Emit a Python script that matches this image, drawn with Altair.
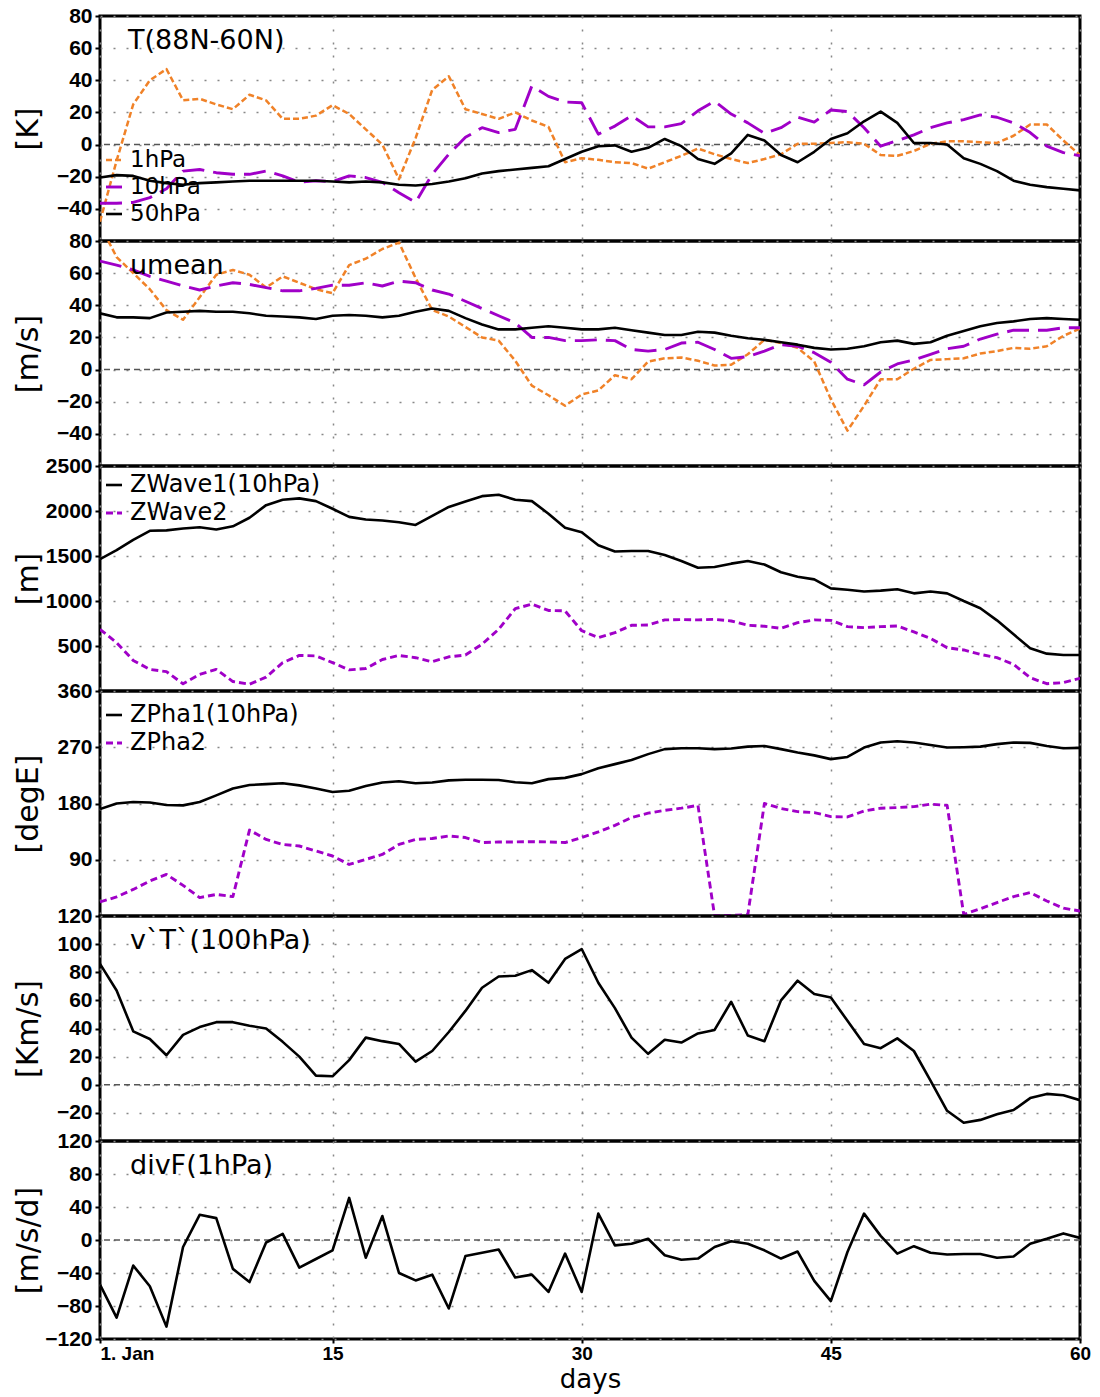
import altair as alt
import pandas as pd

DAYS = list(range(1, 61))

# Polar-cap temperature anomaly (88N-60N) [K]
t_1hpa = [-48, -10, 25, 40, 47, 27.5, 28.5, 25, 22, 31, 27.5, 16, 16, 18, 24.5, 19, 9.5, 0, -21.5, 4,
          34, 42.5, 22, 19, 16, 20, 15, 11, -11, -8.5, -9.5, -11, -11.5, -15, -11, -7, -2.5, -6, -9, -11.5,
          -9, -6, 0.5, 0.5, 1, 1.5, 0.5, -6.5, -7, -4, 0.5, 2, 2, 1.5, 1, 5.5, 12.5, 12.5, 2.5, -6.5]
t_10hpa = [-36.5, -36.5, -36, -33, -27.5, -16.5, -15.5, -17.5, -18.5, -18.5, -16.5, -19.5, -23.5, -22.5, -23,
           -19.5, -20.5, -23.5, -30, -36, -18.5, -6, 4.5, 10.5, 7.5, 9.5, 36.5, 30, 26.5, 26, 6.5, 11.5, 18,
           11, 11, 13, 21, 27, 19, 13.5, 7, 10.5, 17, 14, 21.5, 20.5, 10.5, -1, 2.5, 6, 10.5, 13.5, 15.5,
           18.5, 17, 13.5, 7.5, -1, -5, -7]
t_50hpa = [-20.5, -19, -19.5, -22.5, -24, -25, -24, -23.5, -23, -22.5, -22.5, -22.5, -22.5, -22.5, -23,
           -23.5, -23, -23.5, -25, -25.5, -24.5, -23, -21, -18, -16.5, -15.5, -14.5, -13.5, -9, -4.5, -1,
           -0.5, -4.5, -2, 3.5, -1, -9, -12, -5.5, 6, 2.5, -6.5, -11, -4.5, 3.5, 7, 14.5, 20.5, 13.5, 1, 1,
           0, -8.5, -12, -16.5, -22.5, -25, -26.5, -27.5, -28.5]

# Zonal-mean zonal wind [m/s]
u_1hpa = [90, 70, 60, 50, 37, 31, 45, 59, 62, 59, 51, 58, 54, 50, 47.5, 65, 69, 75, 79, 57, 37, 33, 26.5,
          20, 18, 5.5, -10, -16, -22.5, -15.5, -13, -3.5, -6, 5, 7, 7.5, 5.5, 2.5, 3, 9.5, 18.5, 16.5, 13.5,
          5, -18.5, -38, -22.5, -6, -6, 0.5, 6, 6.5, 7, 10, 11.5, 13.5, 13, 14.5, 21, 25.5]
u_10hpa = [67.5, 65, 62, 58, 55, 52, 49.5, 52, 54, 53, 51, 49, 49, 50.5, 52.5, 52.5, 54, 52, 55, 54, 49.5,
           47, 42.5, 38, 33.5, 29, 20, 20, 18, 18, 18.5, 18, 12.5, 11.5, 12.5, 16.5, 17, 12.5, 7, 8, 11.5,
           15.5, 14.5, 10.5, 4.5, -6, -9.5, -1.5, 3.5, 6, 9.5, 13, 14.5, 19, 22, 24.5, 24.5, 24.5, 26, 26]
u_50hpa = [35, 32.5, 32.5, 32, 35.5, 36, 36.5, 36, 36, 35, 33.5, 33, 32.5, 31.5, 33.5, 34, 33.5, 32.5,
           33.5, 36, 38, 36.5, 32, 28, 25, 25, 26, 27, 26, 25, 25, 26, 24.5, 23, 21.5, 21.5, 23.5, 23, 21,
           19.5, 18.5, 17, 15.5, 13.5, 12.5, 13, 14.5, 17, 18, 16, 17, 21, 24, 27, 29, 30, 31.5, 32, 31.5, 31]

# Geopotential wave amplitudes at 10 hPa [m]
zwave1 = [1465, 1565, 1680, 1780, 1785, 1805, 1820, 1795, 1830, 1925, 2065, 2125, 2140, 2110, 2025, 1935,
          1905, 1895, 1875, 1845, 1945, 2045, 2105, 2165, 2180, 2125, 2110, 1970, 1815, 1765, 1620, 1550,
          1555, 1555, 1510, 1445, 1370, 1378, 1415, 1445, 1405, 1320, 1270, 1240, 1140, 1125, 1105, 1115,
          1130, 1085, 1105, 1085, 1000, 920, 785, 630, 475, 415, 400, 400]
zwave2 = [685, 537, 340, 240, 215, 80, 185, 240, 105, 75, 155, 315, 395, 390, 315, 235, 250, 350, 395, 370,
          325, 380, 400, 520, 685, 915, 965, 895, 890, 670, 593, 648, 730, 733, 790, 793, 790, 796, 778, 730,
          719, 696, 759, 790, 785, 715, 704, 715, 722, 656, 585, 481, 456, 407, 370, 296, 148, 81, 93, 141]

# Wave phases at 10 hPa [degE]
zpha1 = [171, 180, 182.5, 181.5, 177.5, 177, 182.5, 193, 204, 209.5, 211, 212.5, 209, 204, 198.5, 200.5,
         208, 213.5, 215.5, 212.5, 213.5, 217, 218, 218, 217.5, 214, 212.5, 219, 221, 227, 236.5, 243,
         249.5, 259, 267, 268.5, 268.5, 267, 268, 271, 272, 267, 261.5, 257, 251, 254.5, 269.5, 277.5,
         279.5, 277.5, 273.5, 269.5, 270, 271, 275, 277.5, 277, 272, 268.5, 269]
zpha2 = [22.5, 30.5, 42.5, 56, 66.5, 49, 29.5, 34.5, 31, 137.5, 122.5, 114.5, 112, 104, 96, 82.5, 90.5,
         98.5, 114.5, 122.5, 124, 128, 125.5, 117.5, 118.5, 118.5, 119, 118.5, 117.5, 125.5, 134.5, 145,
         157.5, 164.5, 169, 172.5, 177, 0.5, 1, 2, 180, 172, 167, 165.5, 159, 158.5, 168, 172.5, 173.5,
         175, 179, 177, 2.5, 11.5, 21.5, 31, 37.5, 24, 12.5, 8]

# Eddy heat flux at 100 hPa [K m/s]
vt_100 = [86, 67, 38, 32.5, 21, 35.5, 41, 44.5, 44.5, 42, 40, 30.5, 20, 6.5, 6, 17.5, 33.5, 31, 29, 16.5,
          24, 37.5, 52.5, 69, 77, 77.5, 81.5, 72.5, 89.5, 96.5, 72.5, 54.5, 33.5, 22, 32, 30, 36.5, 39, 59,
          35, 31, 60, 74, 64.5, 62, 45.5, 29, 26, 33, 24, 3, -18.5, -27, -25, -21, -18, -9.5, -6.5, -7.5, -11]

# EP-flux divergence at 1 hPa [m/s/d]
divf_1 = [-54, -94, -31, -56, -105, -8.5, 30.5, 26.5, -35, -51, -3, 7.5, -33.5, -23, -12.5, 51, -21.5, 29,
          -40, -49, -42, -83, -19.5, -15.5, -11.5, -45.5, -42, -63, -16.5, -63, 32, -6.5, -4.5, 1.5, -18.5,
          -24, -22.5, -8.5, -1.5, -4.5, -12.5, -22.5, -14, -49.5, -74, -14.5, 32, 5, -16.5, -7.5, -15.5,
          -17.5, -17, -17, -21.5, -20, -4.5, 1.5, 8, 2.5]

X_TICKS = [1, 15, 30, 45, 60]

ORANGE = "#f08228"
PURPLE = "#a000c8"
BLACK = "#000000"

WIDTH = 980
TEXT_FONT = "DejaVu Sans"
TICK_FONT = "Liberation Sans, Arial, sans-serif"


def x_encoding(bottom):
    if bottom:
        axis = alt.Axis(
            values=X_TICKS, grid=True, domain=False, ticks=True, labels=True,
            labelExpr="datum.value == 1 ? '1. Jan' : datum.label",
            labelAlign={"condition": {"test": "datum.value == 1", "value": "left"}, "value": "center"},
            labelFontSize=19, labelPadding=1, tickSize=4,
            title="days", titlePadding=3, titleFontSize=26,
        )
    else:
        axis = alt.Axis(values=X_TICKS, grid=True, domain=False, ticks=False, labels=False, title=None)
    return alt.X("day:Q", scale=alt.Scale(domain=[1, 60], nice=False, zero=False), axis=axis)


def y_encoding(domain, ticks, title, height):
    axis = alt.Axis(
        values=ticks, title=title, grid=True, domain=False, format="d",
        titleX=-72, titleY=height / 2, titleAngle=-90, titleAlign="center", titleBaseline="middle",
    )
    return alt.Y("value:Q", scale=alt.Scale(domain=domain, nice=False, zero=False), axis=axis)


def panel(series, domain, ticks, title, height, texts, samples, bottom=False):
    xe = x_encoding(bottom)
    ye = y_encoding(domain, ticks, title, height)
    layers = []
    if domain[0] < 0 < domain[1]:
        layers.append(
            alt.Chart(pd.DataFrame({"day": [1], "value": [0]}))
            .mark_rule(color="#555555", strokeDash=[6, 4], strokeWidth=1.5)
            .encode(y=ye)
        )
    for values, color, dash, width in series:
        df = pd.DataFrame({"day": DAYS, "value": values})
        mark_kw = dict(color=color, strokeWidth=width, clip=True, strokeJoin="round")
        if dash:
            mark_kw["strokeDash"] = dash
        layers.append(alt.Chart(df).mark_line(**mark_kw).encode(x=xe, y=ye))
    for label, px, py, size in texts:
        layers.append(
            alt.Chart(pd.DataFrame({"t": [label]}))
            .mark_text(align="left", baseline="middle", font=TEXT_FONT, fontSize=size, color="black")
            .encode(x=alt.value(px), y=alt.value(py), text="t:N")
        )
    for color, dash, width, py in samples:
        kw = dict(color=color, strokeWidth=width)
        if dash:
            kw["strokeDash"] = dash
        layers.append(
            alt.Chart(pd.DataFrame({"k": [0]}))
            .mark_rule(**kw)
            .encode(x=alt.value(6), x2=alt.value(22), y=alt.value(py))
        )
    return alt.layer(*layers).properties(width=WIDTH, height=height)


DASH_1 = [6, 3]
DASH_10 = [22, 9]
DASH_W2 = [7, 4]
W_BLACK = 2.6
W_ORANGE = 2.5
W_PURPLE = 2.9
HEAD = 27     # panel headings
LEG = 23      # stacked legend entries
PAIR = 24     # two-line panel labels

p1 = panel(
    [(t_1hpa, ORANGE, DASH_1, W_ORANGE), (t_10hpa, PURPLE, DASH_10, W_PURPLE), (t_50hpa, BLACK, None, W_BLACK)],
    [-60, 80], [80, 60, 40, 20, 0, -20, -40], "[K]", 225,
    [("T(88N-60N)", 28, 25, HEAD), ("1hPa", 30, 144, LEG), ("10hPa", 30, 171, LEG), ("50hPa", 30, 198, LEG)],
    [(ORANGE, DASH_1, W_ORANGE, 144), (PURPLE, DASH_10, W_PURPLE, 171), (BLACK, None, W_BLACK, 198)],
)
p2 = panel(
    [(u_1hpa, ORANGE, DASH_1, W_ORANGE), (u_10hpa, PURPLE, DASH_10, W_PURPLE), (u_50hpa, BLACK, None, W_BLACK)],
    [-60, 80], [80, 60, 40, 20, 0, -20, -40], "[m/s]", 225,
    [("umean", 30, 25, HEAD)], [],
)
p3 = panel(
    [(zwave1, BLACK, None, W_BLACK), (zwave2, PURPLE, DASH_W2, W_PURPLE)],
    [0, 2500], [2500, 2000, 1500, 1000, 500], "[m]", 225,
    [("ZWave1(10hPa)", 30, 19, PAIR), ("ZWave2", 30, 47, PAIR)],
    [(BLACK, None, W_BLACK, 19), (PURPLE, DASH_W2, W_PURPLE, 47)],
)
p4 = panel(
    [(zpha1, BLACK, None, W_BLACK), (zpha2, PURPLE, DASH_W2, W_PURPLE)],
    [0, 360], [360, 270, 180, 90], "[degE]", 225,
    [("ZPha1(10hPa)", 30, 24, PAIR), ("ZPha2", 30, 52, PAIR)],
    [(BLACK, None, W_BLACK, 24), (PURPLE, DASH_W2, W_PURPLE, 52)],
)
p5 = panel(
    [(vt_100, BLACK, None, W_BLACK)],
    [-40, 120], [120, 100, 80, 60, 40, 20, 0, -20], "[Km/s]", 225,
    [("v`T`(100hPa)", 30, 25, HEAD)], [],
)
p6 = panel(
    [(divf_1, BLACK, None, W_BLACK)],
    [-120, 120], [120, 80, 40, 0, -40, -80, -120], "[m/s/d]", 198,
    [("divF(1hPa)", 30, 25, HEAD)], [], bottom=True,
)

chart = (
    alt.vconcat(p1, p2, p3, p4, p5, p6, spacing=0, bounds="flush")
    .properties(padding={"left": 11, "top": 3, "right": 5, "bottom": 0}, background="white")
    .configure_view(stroke="black", strokeWidth=3)
    .configure_axis(
        labelFont=TICK_FONT, labelFontSize=21, labelFontWeight="bold", labelColor="black",
        tickColor="black", tickWidth=2, tickSize=5, labelPadding=3,
        gridColor="#888888", gridDash=[2, 11], gridWidth=1.5,
        titleFont=TEXT_FONT, titleFontSize=30, titleFontWeight="normal", titleColor="black",
    )
)

chart.save("out.html", embed_options={"renderer": "svg", "actions": False})
